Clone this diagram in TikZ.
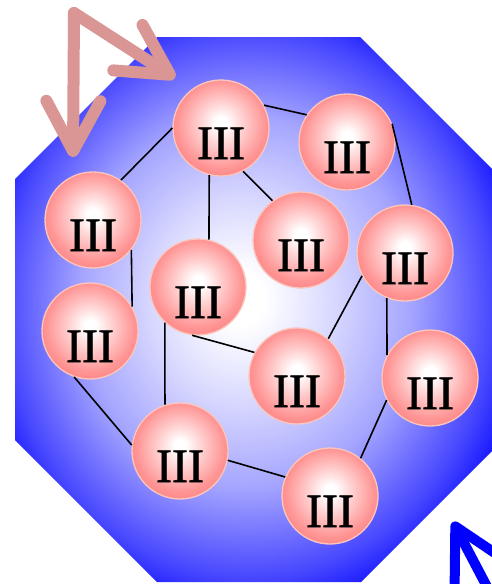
\documentclass[tikz,border=0pt]{standalone}
\usepackage{fontspec}
\setmainfont{Liberation Serif}
\newfontfamily\ballfont[FakeBold=1.2]{Liberation Serif}
\usetikzlibrary{arrows.meta}

\definecolor{ballred}{RGB}{250,112,112}
\definecolor{ballpink}{RGB}{255,148,148}
\definecolor{balllight}{RGB}{255,205,205}
\definecolor{rimpink}{RGB}{250,198,190}
\definecolor{arrowpink}{RGB}{217,150,148}
\definecolor{octpale}{RGB}{215,215,255}
\definecolor{octmid}{RGB}{165,165,255}
\definecolor{octdeep}{RGB}{72,72,255}

\pgfdeclareradialshading{ballglow}{\pgfpoint{0bp}{3bp}}{color(0bp)=(white); color(3bp)=(white); color(12bp)=(balllight); color(23bp)=(ballpink); color(35bp)=(ballred); color(50bp)=(ballred)}
\pgfdeclareradialshading{octglow}{\pgfpoint{-2bp}{1bp}}{color(0bp)=(white); color(2.5bp)=(white); color(9.5bp)=(octpale); color(17bp)=(octmid); color(25bp)=(octdeep); color(30bp)=(blue); color(50bp)=(blue)}

\begin{document}
\begin{tikzpicture}[x=1pt,y=-1pt,
  ball/.style={circle, minimum size=96pt, inner sep=0pt, draw=rimpink, line width=1.3pt,
    shading=ballglow, text height=62pt, text depth=0pt, font=\ballfont\fontsize{48}{48}\selectfont},
  link/.style={line width=1.6pt},
  pinkarrow/.style={draw=arrowpink, line width=12pt, line cap=round,
    -{Straight Barb[length=50pt,width=54pt,round]}},
  bluearrow/.style={draw=blue, line width=10pt, line cap=round,
    -{Straight Barb[length=50pt,width=54pt,round]}}]
\useasboundingbox (0,0) rectangle (492,584);

\shade[shading=octglow] (157,37) -- (360,37) -- (502,179) -- (502,441) -- (361,582)
  -- (157,582) -- (15,440) -- (15,179) -- cycle;

\node[ball] (a) at (221,128) {III};
\node[ball] (b) at (347,142) {III};
\node[ball] (c) at (93,220) {III};
\node[ball] (d) at (90,331) {III};
\node[ball] (e) at (301,240) {III};
\node[ball] (f) at (405,253) {III};
\node[ball] (g) at (198,287) {III};
\node[ball] (h) at (297,376) {III};
\node[ball] (i) at (430,378) {III};
\node[ball] (j) at (180,451) {III};
\node[ball] (k) at (330,496) {III};

\draw[link] (a.28) -- (b.146);
\draw[link] (b.22) -- (f.82);
\draw[link] (a.180) -- (c.55);
\draw[link] (c.-38) -- (d.30);
\draw[link] (d.-109) -- (j.173);
\draw[link] (a.-104) -- (g.77);
\draw[link] (a.-63) -- (e.126);
\draw[link] (g.-133) -- (j.108);
\draw[link] (g.-97) -- (h.151);
\draw[link] (h.50) -- (f.208);
\draw[link] (f.-112) -- (i.152);
\draw[link] (i.207) -- (k.51);
\draw[link] (j.-11) -- (k.157);

\coordinate (src) at (74,13);
\coordinate (down) at (73,157);
\coordinate (across) at (175,78);
\coordinate (foot) at (495,602);
\coordinate (up) at (453,522);

\draw[pinkarrow] (src) -- (down);
\draw[pinkarrow] (src) -- (across);
\draw[bluearrow] (foot) -- (up);
\end{tikzpicture}
\end{document}
